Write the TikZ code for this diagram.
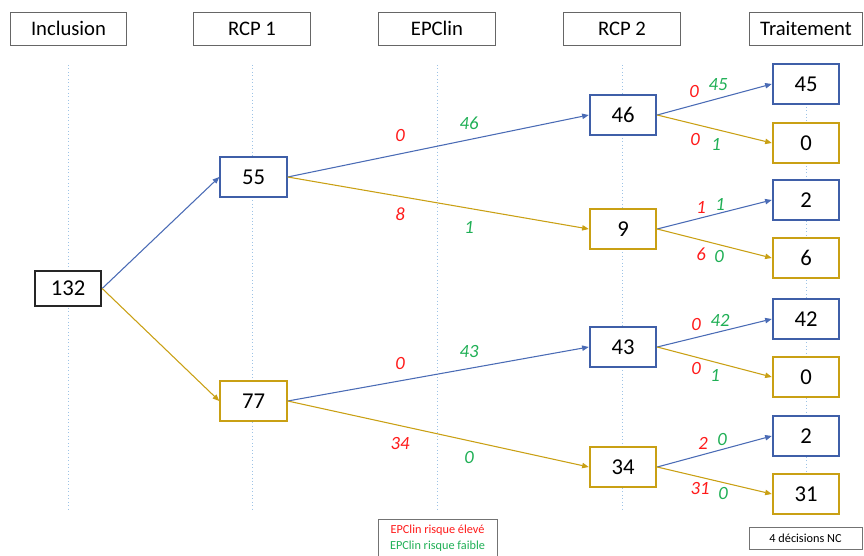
\documentclass[tikz,border=0pt]{standalone}
\usepackage{fontspec}
\setmainfont{Carlito}
\usetikzlibrary{arrows.meta}
\definecolor{bluebox}{HTML}{3F5FA8}
\definecolor{blueline}{HTML}{4A6BB5}
\definecolor{goldc}{HTML}{C9A014}
\definecolor{redl}{HTML}{FF1A1A}
\definecolor{greenl}{HTML}{1FAF55}
\definecolor{guide}{HTML}{9DC3E6}
\tikzset{
  header/.style={draw=black!60, line width=0.6pt, minimum width=87.5pt, minimum height=24.75pt, inner sep=0pt, font=\fontsize{15.5}{17}\selectfont},
  numbox/.style={draw, line width=1.3pt, minimum width=50pt, minimum height=30pt, inner sep=0pt, fill=white, font=\fontsize{17}{19}\selectfont},
  bbox/.style={numbox, draw=bluebox},
  gbox/.style={numbox, draw=goldc},
  kbox/.style={numbox, draw=black!85, minimum height=26pt},
  barrow/.style={draw=blueline, line width=0.8pt, -{Triangle[length=5pt,width=4pt]}},
  garrow/.style={draw=goldc, line width=0.8pt, -{Triangle[length=5pt,width=4pt]}},
  rl/.style={text=redl, font=\fontsize{14}{16}\selectfont\itshape, inner sep=0pt},
  gl/.style={text=greenl, font=\fontsize{14}{16}\selectfont\itshape, inner sep=0pt},
  guideline/.style={draw=guide, dotted, line width=0.6pt},
  smallbox/.style={draw=black!55, line width=0.5pt, inner sep=0pt, font=\fontsize{9.2}{10}\selectfont}
}
\begin{document}
\begin{tikzpicture}[x=0.75pt, y=-0.75pt]
\useasboundingbox (0,0) rectangle (864,556);
% guide lines
\foreach \gx/\gn in {68/ga,252/gb,437/gc,622/gd,806/ge}{
  \coordinate (\gn t) at (\gx,65);
  \coordinate (\gn b) at (\gx,512);
  \draw[guideline] (\gn t) -- (\gn b);
}
% headers
\node[header] (h1) at (68.5,28.5) {Inclusion};
\node[header] (h2) at (252,28.5) {RCP 1};
\node[header] (h3) at (437,28.5) {EPClin};
\node[header] (h4) at (622,28.5) {RCP 2};
\node[header, minimum width=85pt] (h5) at (806,28.5) {Traitement};
% nodes
\node[kbox] (n132) at (68,288.5) {132};
\node[bbox] (n55) at (253.5,177) {55};
\node[gbox] (n77) at (253.5,401) {77};
\node[bbox] (n46) at (623,115) {46};
\node[gbox] (n9) at (623,229) {9};
\node[bbox] (n43) at (623,347) {43};
\node[gbox] (n34) at (623,467) {34};
\node[bbox] (t45) at (806,84) {45};
\node[gbox] (t0a) at (806,143) {0};
\node[bbox] (t2a) at (806,200) {2};
\node[gbox] (t6) at (806,258) {6};
\node[bbox] (t42) at (806,319) {42};
\node[gbox] (t0b) at (806,377) {0};
\node[bbox] (t2b) at (806,436) {2};
\node[gbox] (t31) at (806,494) {31};
% arrows
\draw[barrow] (n132.east) -- (n55.west);
\draw[garrow] (n132.east) -- (n77.west);
\draw[barrow] (n55.east) -- (n46.west);
\draw[garrow] (n55.east) -- (n9.west);
\draw[barrow] (n77.east) -- (n43.west);
\draw[garrow] (n77.east) -- (n34.west);
\draw[barrow] (n46.east) -- (t45.west);
\draw[garrow] (n46.east) -- (t0a.west);
\draw[barrow] (n9.east) -- (t2a.west);
\draw[garrow] (n9.east) -- (t6.west);
\draw[barrow] (n43.east) -- (t42.west);
\draw[garrow] (n43.east) -- (t0b.west);
\draw[barrow] (n34.east) -- (t2b.west);
\draw[garrow] (n34.east) -- (t31.west);
% labels
\node[rl] (l1r) at (400,136) {0};
\node[gl] (l1g) at (469,123) {46};
\node[rl] (l2r) at (400,214) {8};
\node[gl] (l2g) at (469,227) {1};
\node[rl] (l3r) at (400,364) {0};
\node[gl] (l3g) at (469,352) {43};
\node[rl] (l4r) at (400,444) {34};
\node[gl] (l4g) at (469,458) {0};
\node[rl] (m1r) at (694,92) {0};
\node[gl] (m1g) at (718,85) {45};
\node[rl] (m2r) at (695,140) {0};
\node[gl] (m2g) at (716,144) {1};
\node[rl] (m3r) at (701,207) {1};
\node[gl] (m3g) at (720,204) {1};
\node[rl] (m4r) at (701,254) {6};
\node[gl] (m4g) at (719,257) {0};
\node[rl] (m5r) at (696,325) {0};
\node[gl] (m5g) at (720,320) {42};
\node[rl] (m6r) at (696,369) {0};
\node[gl] (m6g) at (715,375) {1};
\node[rl] (m7r) at (703,443) {2};
\node[gl] (m7g) at (722,440) {0};
\node[rl] (m8r) at (700,489) {31};
\node[gl] (m8g) at (723,494) {0};
% legend
\node[smallbox, minimum width=89pt, minimum height=28pt, anchor=north] (leg) at (437.5,519) {};
\node[text=redl, font=\fontsize{9.2}{10}\selectfont, inner sep=0pt] (leg1) at (437.5,530.5) {EPClin risque élevé};
\node[text=greenl, font=\fontsize{9.2}{10}\selectfont, inner sep=0pt] (leg2) at (437.5,546.5) {EPClin risque faible};
\node[smallbox, minimum width=84.75pt, minimum height=16.5pt] (nc) at (805.5,538) {4 décisions NC};
\end{tikzpicture}
\end{document}
